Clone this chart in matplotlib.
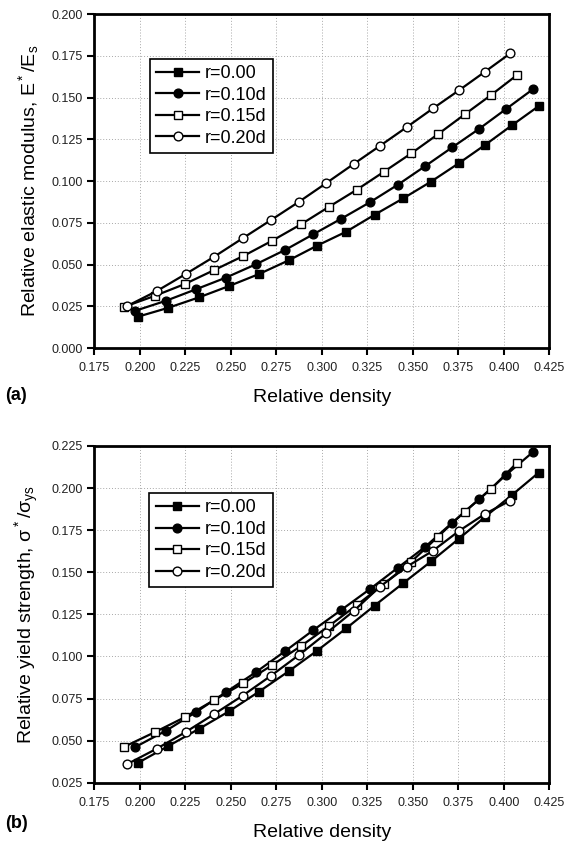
import matplotlib
matplotlib.use('Agg')
import matplotlib.pyplot as plt

plt.rcParams['font.family'] = ['Liberation Sans', 'DejaVu Sans']
plt.rcParams['mathtext.default'] = 'regular'

# relative density of each series
x_r00 = [0.1988, 0.2157, 0.2327, 0.2490, 0.2655, 0.2818, 0.2974, 0.3133, 0.3290, 0.3447, 0.3601, 0.3752, 0.3898, 0.4045, 0.4192]
x_r10 = [0.1975, 0.2144, 0.2307, 0.2472, 0.2637, 0.2798, 0.2953, 0.3108, 0.3263, 0.3418, 0.3569, 0.3717, 0.3865, 0.4012, 0.4159]
x_r15 = [0.1915, 0.2084, 0.2247, 0.2409, 0.2569, 0.2728, 0.2886, 0.3037, 0.3191, 0.3342, 0.3492, 0.3639, 0.3785, 0.3930, 0.4073]
x_r20 = [0.1928, 0.2093, 0.2252, 0.2409, 0.2565, 0.2719, 0.2875, 0.3025, 0.3175, 0.3320, 0.3467, 0.3611, 0.3756, 0.3897, 0.4036]

# (a) relative elastic modulus
e_r00 = [0.0187, 0.0241, 0.0304, 0.0371, 0.0443, 0.0525, 0.0613, 0.0696, 0.0798, 0.0896, 0.0997, 0.1106, 0.1217, 0.1334, 0.1449]
e_r10 = [0.0223, 0.0283, 0.0351, 0.0421, 0.0501, 0.0587, 0.0681, 0.0775, 0.0872, 0.0978, 0.1090, 0.1202, 0.1313, 0.1431, 0.1549]
e_r15 = [0.0247, 0.0313, 0.0383, 0.0467, 0.0551, 0.0643, 0.0741, 0.0844, 0.0947, 0.1056, 0.1166, 0.1281, 0.1399, 0.1515, 0.1635]
e_r20 = [0.0250, 0.0341, 0.0443, 0.0547, 0.0657, 0.0765, 0.0876, 0.0988, 0.1102, 0.1211, 0.1323, 0.1435, 0.1545, 0.1655, 0.1765]

# (b) relative yield strength
s_r00 = [0.0367, 0.0468, 0.0571, 0.0674, 0.0791, 0.0912, 0.1034, 0.1166, 0.1302, 0.1435, 0.1565, 0.1698, 0.1830, 0.1959, 0.2092]
s_r10 = [0.0462, 0.0559, 0.0668, 0.0787, 0.0906, 0.1031, 0.1156, 0.1277, 0.1399, 0.1527, 0.1652, 0.1795, 0.1934, 0.2078, 0.2213]
s_r15 = [0.0464, 0.0551, 0.0639, 0.0741, 0.0841, 0.0949, 0.1062, 0.1179, 0.1304, 0.1431, 0.1563, 0.1712, 0.1860, 0.1995, 0.2151]
s_r20 = [0.0359, 0.0452, 0.0551, 0.0658, 0.0767, 0.0884, 0.1009, 0.1138, 0.1270, 0.1415, 0.1533, 0.1628, 0.1747, 0.1847, 0.1926]

labels = ['r=0.00', 'r=0.10d', 'r=0.15d', 'r=0.20d']
xticks = [0.175, 0.200, 0.225, 0.250, 0.275, 0.300, 0.325, 0.350, 0.375, 0.400, 0.425]
yticks_a = [0.000, 0.025, 0.050, 0.075, 0.100, 0.125, 0.150, 0.175, 0.200]
yticks_b = [0.025, 0.050, 0.075, 0.100, 0.125, 0.150, 0.175, 0.200, 0.225]

styles = [dict(marker='s', mfc='black'), dict(marker='o', mfc='black'),
          dict(marker='s', mfc='white'), dict(marker='o', mfc='white')]

fig = plt.figure(figsize=(5.8, 8.41), dpi=100)
ax_a = fig.add_axes([0.1626, 0.5862, 0.7845, 0.3971])
ax_b = fig.add_axes([0.1626, 0.0693, 0.7845, 0.4004])


def draw(ax, ys, yticks, ylabel, leg_anchor):
    xs = [x_r00, x_r10, x_r15, x_r20]
    for x, y, st, lab in zip(xs, ys, styles, labels):
        ax.plot(x, y, color='black', lw=1.6, ms=6.3, mec='black', mew=1.0,
                label=lab, **st)
    ax.set_xlim(0.175, 0.425)
    ax.set_ylim(yticks[0], yticks[-1])
    ax.set_xticks(xticks)
    ax.set_yticks(yticks)
    ax.set_xticklabels(['%.3f' % v for v in xticks])
    ax.set_yticklabels(['%.3f' % v for v in yticks])
    ax.grid(True, ls=(0, (1, 2)), color='#a8a8a8', lw=0.7)
    ax.tick_params(direction='out', length=5, width=1.5, labelsize=9,
                   labelcolor='#222222')
    ax.tick_params(axis='x', pad=5)
    for sp in ax.spines.values():
        sp.set_linewidth(2)
    ax.set_xlabel('Relative density', fontsize=14, labelpad=11)
    ax.set_ylabel(ylabel, fontsize=14)
    ax.yaxis.set_label_coords(-0.118, 0.5)
    leg = ax.legend(loc='upper left', bbox_to_anchor=leg_anchor, borderaxespad=0,
                    fontsize=13, fancybox=False, framealpha=1, edgecolor='black',
                    handlelength=2.4, handletextpad=0.3, labelspacing=0.25,
                    borderpad=0.35)
    leg.get_frame().set_linewidth(1.2)


draw(ax_a, [e_r00, e_r10, e_r15, e_r20], yticks_a,
     'Relative elastic modulus, E$^*$/E$_s$', (0.122, 0.866))
draw(ax_b, [s_r00, s_r10, s_r15, s_r20], yticks_b,
     r'Relative yield strength, $\sigma^*/\sigma_{ys}$', (0.121, 0.86))

fig.text(0.008, 1 - 396 / 841, '(a)', fontsize=13, fontweight='bold', va='center')
fig.text(0.008, 1 - 823 / 841, '(b)', fontsize=13, fontweight='bold', va='center')

fig.savefig('out.png', dpi=100)
